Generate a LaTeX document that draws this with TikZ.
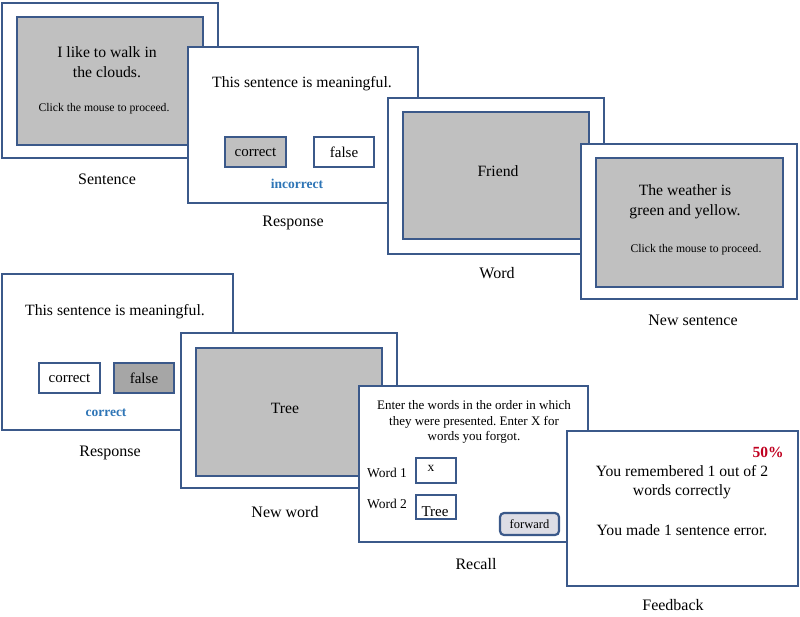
\documentclass[tikz,border=0pt]{standalone}
\usepackage{fontspec}
\setmainfont{Liberation Serif}
\usetikzlibrary{positioning}
\definecolor{frame}{RGB}{59,89,138}
\definecolor{panelgray}{RGB}{192,192,192}
\definecolor{pressgray}{RGB}{166,166,166}
\definecolor{fwdgray}{RGB}{221,221,229}
\definecolor{hintblue}{RGB}{46,117,182}
\definecolor{scorered}{RGB}{192,0,32}
\frenchspacing

\begin{document}
\begin{tikzpicture}[x=1pt,y=-1pt,
  screen/.style={draw=frame,line width=2.6pt,fill=white,anchor=north west,inner sep=0pt,outer sep=0pt},
  panel/.style={draw=frame,line width=2.6pt,fill=panelgray,anchor=north west,inner sep=0pt,outer sep=0pt},
  btn/.style={draw=frame,line width=2.2pt,fill=white,anchor=north west,inner sep=0pt,outer sep=0pt,font=\fontsize{15}{17}\selectfont},
  txt/.style={font=\fontsize{15.7}{20}\selectfont,align=center,inner sep=0pt},
  small/.style={font=\fontsize{11.7}{13}\selectfont,inner sep=0pt},
  note/.style={font=\fontsize{13.5}{15}\selectfont\bfseries,text=hintblue,inner sep=0pt},
  lbl/.style={font=\fontsize{16}{18}\selectfont,inner sep=0pt}
]
\useasboundingbox (0,0) rectangle (800,616);

% first trial, top row
\node[screen,minimum width=216pt,minimum height=155pt] (sentence) at (2,3) {};
\node[panel,minimum width=186pt,minimum height=128pt] (sentencepanel) at (17,17) {};
\node[txt] (sentencetext) at (107,62) {I like to walk in\\the clouds.};
\node[small] (sentenceclick) at (104,109) {Click the mouse to proceed.};
\node[lbl] (sentencelbl) at (107,179) {Sentence};

\node[screen,minimum width=230pt,minimum height=156pt] (response) at (188,47) {};
\node[txt] (responsetext) at (302,84) {This sentence is meaningful.};
\node[btn,fill=panelgray,minimum width=61pt,minimum height=30pt] (responsecorrect) at (225,137) {correct};
\node[btn,minimum width=60pt,minimum height=30pt] (responsefalse) at (314,137) {false};
\node[note] (responsenote) at (297,184) {incorrect};
\node[lbl] (responselbl) at (293,223) {Response};

\node[screen,minimum width=216pt,minimum height=156pt] (word) at (388,98) {};
\node[panel,minimum width=186pt,minimum height=127pt] (wordpanel) at (403,112) {};
\node[txt] (wordtext) at (498,171) {Friend};
\node[lbl] (wordlbl) at (497,273) {Word};

\node[screen,minimum width=216pt,minimum height=155pt] (newsent) at (581,144) {};
\node[panel,minimum width=187pt,minimum height=129pt] (newsentpanel) at (596,158) {};
\node[txt] (newsenttext) at (685,202) {The weather is\\green and yellow.};
\node[small] (newsentclick) at (696,250) {Click the mouse to proceed.};
\node[lbl] (newsentlbl) at (693,320) {New sentence};

% second trial, bottom row
\node[screen,minimum width=231pt,minimum height=156pt] (response2) at (2,274) {};
\node[txt] (response2text) at (115,312) {This sentence is meaningful.};
\node[btn,minimum width=61pt,minimum height=30pt] (response2correct) at (39,363) {correct};
\node[btn,fill=pressgray,minimum width=60pt,minimum height=30pt] (response2false) at (114,363) {false};
\node[note] (response2note) at (106,413) {correct};
\node[lbl] (response2lbl) at (110,453) {Response};

\node[screen,minimum width=216pt,minimum height=155pt] (newword) at (181,333) {};
\node[panel,minimum width=186pt,minimum height=128pt] (newwordpanel) at (196,348) {};
\node[txt] (newwordtext) at (285,408) {Tree};
\node[lbl] (newwordlbl) at (285,512) {New word};

\node[screen,minimum width=229pt,minimum height=156pt] (recall) at (359,386) {};
\node[txt,font=\fontsize{13}{15.5}\selectfont] (recalltext) at (474,422) {Enter the words in the order in which\\they were presented. Enter X for\\words you forgot.};
\node[small,font=\fontsize{13.5}{15}\selectfont] (word1lbl) at (387,473) {Word 1};
\node[btn,minimum width=40pt,minimum height=25pt] (word1box) at (416,458) {};
\node[small,font=\fontsize{13.5}{15}\selectfont] (word1text) at (431,468) {x};
\node[small,font=\fontsize{13.5}{15}\selectfont] (word2lbl) at (387,504) {Word 2};
\node[btn,minimum width=40pt,minimum height=24pt] (word2box) at (416,495) {};
\node[txt,font=\fontsize{15}{17}\selectfont] (word2text) at (435,512) {Tree};
\node[btn,fill=fwdgray,rounded corners=4pt,minimum width=59pt,minimum height=22pt,font=\fontsize{12.5}{14}\selectfont] (forward) at (500,513) {forward};
\node[lbl] (recalllbl) at (476,564) {Recall};

\node[screen,minimum width=231pt,minimum height=155pt] (feedback) at (567,431) {};
\node[note,text=scorered,font=\fontsize{15.5}{17}\selectfont\bfseries] (score) at (768,452) {50\%};
\node[txt,font=\fontsize{15.7}{19}\selectfont] (feedbacktext) at (682,482.5) {You remembered 1 out of 2\\words correctly};
\node[txt,font=\fontsize{15.7}{19}\selectfont] (feedbackerr) at (682,530) {You made 1 sentence error.};
\node[lbl] (feedbacklbl) at (673,605) {Feedback};
\end{tikzpicture}
\end{document}
